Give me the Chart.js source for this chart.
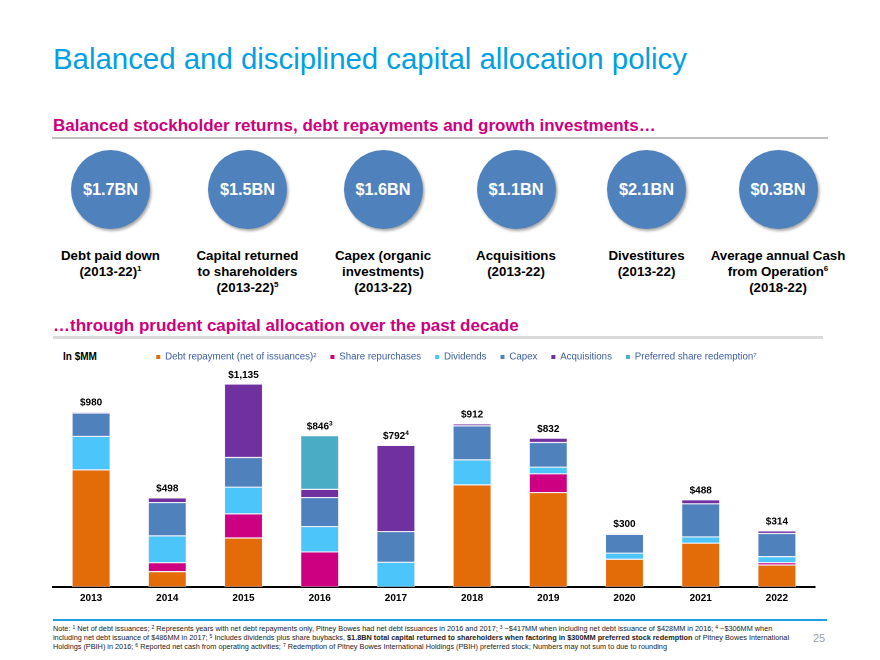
<!DOCTYPE html>
<html><head><meta charset="utf-8">
<script src="https://cdn.jsdelivr.net/npm/chart.js@4.4.0/dist/chart.umd.min.js"></script>
<style>
html,body{margin:0;padding:0;background:#fff;}
body{width:880px;height:660px;position:relative;overflow:hidden;font-family:"Liberation Sans",Arial,sans-serif;}
.abs{position:absolute;white-space:nowrap;}
#title{left:53px;top:44px;font-size:29.4px;line-height:29.4px;color:#00A0E3;}
.sub{left:53px;font-size:17px;line-height:17px;font-weight:bold;color:#CC0080;}
#sub1{top:117px;}
#sub2{top:317px;}
#rule1{position:absolute;left:52px;top:137px;width:776px;height:1.5px;background:#BFBFBF;}
#rule2{position:absolute;left:53px;top:336px;width:770px;height:3px;background:#D9D9D9;}
.circle{position:absolute;width:79px;height:79px;border-radius:50%;background:#4F81BD;box-shadow:1.5px 2px 3px rgba(0,0,0,0.35);display:flex;align-items:center;justify-content:center;color:#fff;font-weight:bold;font-size:16.3px;}
.lbl{position:absolute;text-align:center;font-weight:bold;font-size:13.3px;line-height:16px;color:#000;white-space:nowrap;transform:translateX(-50%);top:248px;}
.lbl sup{font-size:8px;vertical-align:5px;line-height:0;}
#inmm{left:63px;top:351px;font-size:10px;line-height:12px;font-weight:bold;color:#000;}
#chartWrap{position:absolute;left:0;top:330px;width:880px;height:280px;}
#blueRule{position:absolute;left:53px;top:619px;width:774px;height:2px;background:#1E9FE0;}
#foot{left:53px;top:624px;font-size:7.3px;line-height:9px;color:#222;}
#foot sup{font-size:5px;vertical-align:2.5px;line-height:0;}
#page{left:813px;top:631.5px;font-size:11px;line-height:13px;color:#A0A0A0;}
</style>
</head>
<body>
<div id="title" class="abs">Balanced and disciplined capital allocation policy</div>
<div id="sub1" class="abs sub">Balanced stockholder returns, debt repayments and growth investments…</div>
<div id="rule1"></div>
<div id="circles"></div>
<div id="sub2" class="abs sub">…through prudent capital allocation over the past decade</div>
<div id="rule2"></div>
<div id="inmm" class="abs">In $MM</div>
<div id="chartWrap"><canvas id="c" width="880" height="280"></canvas></div>
<div id="blueRule"></div>
<div id="foot" class="abs">Note: <sup>1</sup> Net of debt issuances; <sup>2</sup> Represents years with net debt repayments only, Pitney Bowes had net debt issuances in 2016 and 2017; <sup>3</sup> ~$417MM when including net debt issuance of $428MM in 2016; <sup>4</sup> ~$306MM when<br>including net debt issuance of $486MM in 2017; <sup>5</sup> Includes dividends plus share buybacks, <b>$1.8BN total capital returned to shareholders when factoring in $300MM preferred stock redemption</b> of Pitney Bowes International<br>Holdings (PBIH) in 2016; <sup>6</sup> Reported net cash from operating activities; <sup>7</sup> Redemption of Pitney Bowes International Holdings (PBIH) preferred stock; Numbers may not sum to due to rounding</div>
<div id="page" class="abs">25</div>
<script>
// ---- headline figures ----
const kpiValues = ['$1.7BN', '$1.5BN', '$1.6BN', '$1.1BN', '$2.1BN', '$0.3BN'];
const kpiLabels = [
  ['Debt paid down', '(2013-22)<sup>1</sup>'],
  ['Capital returned', 'to shareholders', '(2013-22)<sup>5</sup>'],
  ['Capex (organic', 'investments)', '(2013-22)'],
  ['Acquisitions', '(2013-22)'],
  ['Divestitures', '(2013-22)'],
  ['Average annual Cash', 'from Operation<sup>6</sup>', '(2018-22)']
];
// ---- chart data ($MM) ----
const years = ['2013', '2014', '2015', '2016', '2017', '2018', '2019', '2020', '2021', '2022'];
const debtRepayment      = [655, 86, 274, null, null, 571, 528, 155, 245, 123];
const shareRepurchases   = [null, 50, 135, 196, null, null, 105, null, null, 13];
const dividends          = [187, 150, 149, 142, 138, 140, 37, 34, 35, 34];
const capex              = [131, 186, 166, 162, 172, 190, 138, 105, 185, 129];
const acquisitions       = [7, 26, 411, 46, 482, 11, 24, 6, 23, 15];
const preferredRedemption= [null, null, null, 300, null, null, null, null, null, null];
const totalLabels = ['$980', '$498', '$1,135', '$846', '$792', '$912', '$832', '$300', '$488', '$314'];
const totalNotes  = ['', '', '', '3', '4', '', '', '', '', ''];
const seriesNames = ['Debt repayment (net of issuances)²', 'Share repurchases', 'Dividends', 'Capex', 'Acquisitions', 'Preferred share redemption⁷'];

// layout (not data)
const circleCenters = [110.5, 247.5, 383, 516, 646.5, 778];
const colors = ['#E36C09', '#CC0080', '#4BC5FA', '#4F81BD', '#7030A0', '#4BACC6'];

const cwrap = document.getElementById('circles');
kpiValues.forEach((v, i) => {
  const c = document.createElement('div');
  c.className = 'circle';
  c.style.left = (circleCenters[i] - 39.5) + 'px';
  c.style.top = '150px';
  c.textContent = v;
  cwrap.appendChild(c);
  const l = document.createElement('div');
  l.className = 'lbl';
  l.style.left = circleCenters[i] + 'px';
  l.innerHTML = kpiLabels[i].join('<br>');
  cwrap.appendChild(l);
});

const FONT = '"Liberation Sans", Arial, sans-serif';
const seriesData = [debtRepayment, shareRepurchases, dividends, capex, acquisitions, preferredRedemption];

const totalsPlugin = {
  id: 'totals',
  afterDatasetsDraw(chart) {
    const ctx = chart.ctx;
    const xs = chart.scales.x, ys = chart.scales.y;
    ctx.save();
    ctx.fillStyle = '#000';
    ctx.textBaseline = 'middle';
    years.forEach((y, i) => {
      let sum = 0;
      seriesData.forEach(s => { if (s[i] != null) sum += s[i]; });
      const px = xs.getPixelForValue(i);
      const py = ys.getPixelForValue(sum) - 9;
      ctx.font = 'bold 10px ' + FONT;
      const w1 = ctx.measureText(totalLabels[i]).width;
      let w2 = 0;
      if (totalNotes[i]) {
        ctx.font = 'bold 6.5px ' + FONT;
        w2 = ctx.measureText(totalNotes[i]).width;
      }
      const x0 = px - (w1 + w2) / 2;
      ctx.textAlign = 'left';
      ctx.font = 'bold 10px ' + FONT;
      ctx.fillText(totalLabels[i], x0, py);
      if (totalNotes[i]) {
        ctx.font = 'bold 6.5px ' + FONT;
        ctx.fillText(totalNotes[i], x0 + w1, py - 3);
      }
    });
    ctx.restore();
  }
};

new Chart(document.getElementById('c'), {
  type: 'bar',
  data: {
    labels: years,
    datasets: seriesData.map((d, k) => ({
      label: seriesNames[k],
      data: d,
      backgroundColor: colors[k],
      borderColor: 'rgba(235,228,245,0.7)',
      borderWidth: 0.6,
      borderSkipped: false,
      categoryPercentage: 1,
      barPercentage: 0.5,
      clip: false
    }))
  },
  options: {
    responsive: false,
    animation: false,
    devicePixelRatio: 2,
    layout: { padding: { left: 53, right: 20, top: 8.15, bottom: 3 } },
    plugins: {
      tooltip: { enabled: false },
      legend: {
        position: 'top',
        labels: {
          boxWidth: 4, boxHeight: 4, padding: 14,
          color: '#3A5DA0',
          font: { family: FONT, size: 9.7 },
          generateLabels(chart) {
            const items = Chart.defaults.plugins.legend.labels.generateLabels(chart);
            items.forEach(it => { it.lineWidth = 0; it.strokeStyle = 'transparent'; });
            return items;
          }
        }
      }
    },
    scales: {
      x: {
        stacked: true,
        grid: { display: false, drawTicks: false },
        border: { display: true, color: '#000', width: 2 },
        ticks: { color: '#000', font: { family: FONT, size: 10, weight: 'bold' }, padding: 5 },
        afterFit(s) { s.height = 20; }
      },
      y: {
        stacked: true,
        position: 'right',
        min: 0, max: 1203,
        grid: { display: false, drawTicks: false },
        border: { display: false },
        ticks: { display: false },
        afterFit(s) { s.width = 45; }
      }
    }
  },
  plugins: [totalsPlugin]
});
</script>
</body></html>
